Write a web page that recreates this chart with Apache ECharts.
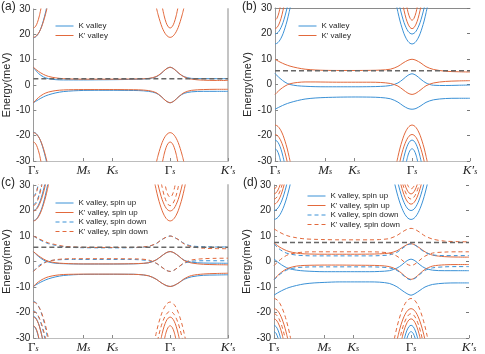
<!DOCTYPE html>
<html>
<head>
<meta charset="utf-8">
<script src="https://cdn.jsdelivr.net/npm/echarts@6/dist/echarts.min.js"></script>
<style>
  html, body { margin: 0; padding: 0; background: #fff; }
  #chart { width: 485px; height: 354px; }
</style>
</head>
<body>
<div id="chart"></div>
<script>
// path length along Gs - Ms - Ks - Gs - K's (|GM| = 1)
const L = 3.887;
const GAMMA = 2.732;
const TICK_POS = [0, 1, 1.577, 2.732, 3.887];
const TICK_LABELS = ['{g|Γ}{s|s}', '{m|M}{s|s}', '{m|K}{s|s}', '{g|Γ}{s|s}', '{m|K′}{s|s}'];

// k points for the low energy bands
const X = [0, 0.1, 0.2, 0.3, 0.45, 0.6, 0.8, 1.0, 1.3, 1.6, 1.9, 2.1,
           2.3, 2.45, 2.55, 2.65, 2.732, 2.81, 2.91, 3.01, 3.16, 3.4, 3.65, 3.887];
// k offsets from Gamma for the high energy bands
const DX = [0, 0.04, 0.08, 0.12, 0.16, 0.2, 0.24, 0.28, 0.32, 0.36];

// Fermi level (grey dashed) per panel
const EF = [2.5, 5.4, 5.6, 7.5];

// (a)
const A_K_UP  = [7.0, 4.6, 3.2, 2.5, 2.1, 2.0, 2.0, 2.0, 2.05, 2.1, 2.2, 2.3, 2.5, 3.2, 4.5, 6.3, 7.0, 6.3, 4.5, 3.3, 2.6, 2.5, 2.5, 2.5];
const A_KP_UP = [7.0, 5.4, 4.2, 3.4, 2.8, 2.5, 2.35, 2.3, 2.3, 2.3, 2.35, 2.4, 2.6, 3.3, 4.6, 6.3, 7.0, 6.3, 4.6, 3.2, 2.3, 1.9, 1.8, 1.8];
const A_K_LO  = [-7.0, -5.8, -4.7, -3.9, -3.1, -2.6, -2.3, -2.15, -2.1, -2.1, -2.15, -2.2, -2.5, -3.2, -4.5, -6.3, -7.0, -6.3, -4.5, -3.3, -2.7, -2.5, -2.5, -2.5];
const A_KP_LO = [-7.0, -5.0, -3.6, -2.8, -2.2, -1.95, -1.85, -1.8, -1.8, -1.8, -1.85, -1.9, -2.2, -3.0, -4.5, -6.3, -7.0, -6.3, -4.5, -3.0, -2.1, -1.8, -1.7, -1.7];

// (b)
const B_K_UP  = [4.3, 2.4, 0.9, 0.0, -0.5, -0.7, -0.85, -0.9, -0.9, -0.9, -0.85, -0.75, -0.4, 0.6, 2.0, 3.6, 4.2, 3.6, 2.0, 0.6, -0.3, -0.4, -0.3, -0.2];
const B_KP_UP = [9.9, 8.8, 7.9, 7.2, 6.5, 6.0, 5.7, 5.55, 5.5, 5.5, 5.55, 5.65, 6.0, 7.1, 8.4, 9.5, 9.9, 9.5, 8.4, 7.0, 5.9, 5.2, 5.0, 4.9];
const B_KP_LO = [-3.9, -2.0, -0.6, 0.3, 0.8, 1.0, 1.0, 0.95, 0.9, 0.9, 0.9, 0.8, 0.4, -0.6, -2.0, -3.4, -3.9, -3.4, -2.0, -0.5, 0.6, 1.2, 1.4, 1.5];
const B_K_LO  = [-9.7, -8.7, -7.8, -7.1, -6.3, -5.7, -5.3, -5.1, -4.95, -4.9, -4.95, -5.1, -5.6, -6.9, -8.3, -9.4, -9.7, -9.4, -8.3, -7.0, -6.0, -5.5, -5.4, -5.4];

// (c)
const C_K_UP   = [3.9, 2.0, 0.6, -0.2, -0.7, -0.85, -0.95, -1.0, -1.0, -1.0, -0.95, -0.85, -0.5, 0.6, 2.0, 3.4, 3.9, 3.4, 2.0, 0.5, -0.3, -0.6, -0.65, -0.7];
const C_KP_UP  = [3.9, 2.3, 1.0, 0.1, -0.5, -0.75, -0.9, -0.95, -0.95, -0.95, -0.9, -0.8, -0.5, 0.6, 2.0, 3.4, 3.9, 3.4, 2.0, 0.4, -0.6, -1.1, -1.25, -1.3];
const C_K_LO   = [-9.8, -8.6, -7.6, -6.8, -6.0, -5.5, -5.2, -5.05, -5.0, -5.0, -5.0, -5.1, -5.6, -6.9, -8.3, -9.4, -9.8, -9.4, -8.3, -7.0, -6.0, -5.4, -5.3, -5.2];
const C_KP_LO  = [-9.8, -8.0, -6.8, -6.0, -5.4, -5.1, -5.0, -4.95, -4.95, -4.95, -5.0, -5.1, -5.6, -6.9, -8.3, -9.4, -9.8, -9.4, -8.3, -6.8, -5.5, -4.9, -4.7, -4.6];
const C_KD_UP  = [10.0, 8.8, 7.8, 7.0, 6.3, 5.8, 5.5, 5.4, 5.35, 5.35, 5.4, 5.5, 5.9, 7.0, 8.4, 9.5, 10.0, 9.5, 8.4, 7.1, 6.1, 5.8, 5.7, 5.7];
const C_KPD_UP = [10.0, 9.0, 8.1, 7.3, 6.6, 6.0, 5.7, 5.55, 5.5, 5.5, 5.5, 5.6, 6.0, 7.0, 8.4, 9.5, 10.0, 9.5, 8.4, 6.9, 5.8, 5.2, 5.05, 5.0];
const C_KD_LO  = [-3.9, -1.8, -0.5, 0.2, 0.6, 0.75, 0.8, 0.8, 0.8, 0.8, 0.8, 0.7, 0.3, -0.7, -2.0, -3.4, -3.9, -3.4, -2.0, -0.7, 0.1, 0.3, 0.3, 0.3];
const C_KPD_LO = [-3.9, -2.2, -0.8, 0.1, 0.7, 1.0, 1.1, 1.1, 1.1, 1.1, 1.05, 1.0, 0.6, -0.6, -2.0, -3.4, -3.9, -3.4, -2.0, -0.5, 0.6, 1.1, 1.25, 1.3];

// (d)
const D_K_UP   = [1.0, -0.6, -1.9, -2.8, -3.4, -3.7, -3.9, -4.0, -4.0, -4.0, -4.0, -3.9, -3.6, -2.6, -1.3, 0.3, 0.9, 0.3, -1.3, -2.6, -3.4, -3.6, -3.6, -3.6];
const D_K_LO   = [-13.2, -12.0, -11.0, -10.2, -9.4, -8.8, -8.4, -8.2, -8.0, -8.0, -8.0, -8.1, -8.6, -9.9, -11.3, -12.6, -13.2, -12.6, -11.3, -10.0, -9.0, -8.5, -8.4, -8.4];
const D_KP_UP  = [7.3, 5.8, 4.7, 3.9, 3.3, 3.0, 2.9, 2.85, 2.85, 2.85, 2.9, 3.0, 3.3, 4.2, 5.4, 6.6, 7.0, 6.5, 5.2, 3.8, 2.5, 1.9, 1.75, 1.7];
const D_KP_LO  = [-7.0, -5.0, -3.5, -2.5, -1.8, -1.55, -1.45, -1.4, -1.4, -1.45, -1.5, -1.6, -2.0, -3.2, -4.7, -6.4, -7.0, -6.4, -4.7, -3.1, -1.8, -1.3, -1.2, -1.2];
const D_KD_UP  = [6.9, 5.0, 3.7, 3.0, 2.5, 2.3, 2.2, 2.2, 2.2, 2.2, 2.2, 2.3, 2.6, 3.6, 5.0, 6.4, 6.9, 6.4, 5.0, 3.6, 2.6, 2.3, 2.3, 2.3];
const D_KD_LO  = [-7.2, -5.3, -3.9, -3.0, -2.4, -2.2, -2.1, -2.1, -2.1, -2.1, -2.1, -2.2, -2.5, -3.5, -5.0, -6.6, -7.2, -6.6, -5.0, -3.5, -2.5, -2.1, -2.0, -2.0];
const D_KPD_UP = [12.8, 11.6, 10.6, 9.9, 9.3, 8.9, 8.7, 8.6, 8.5, 8.5, 8.5, 8.6, 9.0, 10.2, 11.5, 12.6, 13.0, 12.6, 11.4, 10.0, 8.8, 8.0, 7.8, 7.7];
const D_KPD_LO = [-1.6, 0.3, 1.8, 2.8, 3.4, 3.7, 3.8, 3.8, 3.8, 3.8, 3.8, 3.7, 3.3, 2.1, 0.6, -1.0, -1.6, -1.0, 0.6, 2.1, 3.3, 3.7, 3.8, 3.8];

// high energy bands, energy at DX offsets from Gamma
const H188  = [18.8, 19.05, 19.8, 21.0, 22.7, 25.0, 27.7, 30.9];
const H225  = [22.5, 23.0, 24.6, 27.3, 31.0];
const HM188 = [-18.8, -19.05, -19.8, -21.0, -22.7, -25.0, -27.7, -30.9];
const HM225 = [-22.5, -23.0, -24.6, -27.3, -31.0];
const H188B  = [18.6, 18.9, 19.7, 21.0, 22.9, 25.4, 28.4, 31.9];
const HM188B = [-18.6, -18.9, -19.7, -21.0, -22.9, -25.4, -28.4, -31.9];

const H159  = [15.9, 16.15, 16.9, 18.15, 19.9, 22.2, 24.9, 28.2, 31.9];
const H198  = [19.8, 20.1, 20.9, 22.35, 24.3, 26.9, 30.0, 33.7];
const H219  = [21.9, 22.35, 23.7, 25.9, 29.1, 33.1];
const H252  = [25.2, 26.0, 28.3, 32.1];
const HM159 = [-15.9, -16.15, -16.9, -18.15, -19.9, -22.2, -24.9, -28.2, -31.9];
const HM196 = [-19.6, -19.9, -20.75, -22.2, -24.2, -26.8, -30.0, -33.8];
const HM218 = [-21.8, -22.2, -23.4, -25.4, -28.3, -31.9];
const HM252 = [-25.2, -25.8, -27.7, -30.9];

// (c) blue bands near the left Gamma, slightly apart from the orange ones
const C_H159B  = [16.0, 16.3, 17.1, 18.5, 20.4, 22.9, 26.0, 29.6, 33.5];
const C_H198B  = [20.0, 20.35, 21.3, 22.9, 25.1, 28.0, 31.5];
const C_HM218B = [-21.5, -21.9, -23.2, -25.3, -28.3, -32.0];
const C_HM252B = [-25.4, -26.0, -28.0, -31.3];
const C_H219B  = [22.3, 22.8, 24.2, 26.6, 30.0, 34.0];
const C_H252B  = [25.6, 26.4, 28.8, 32.6];
const C_HM159B = [-15.6, -15.9, -16.8, -18.2, -20.2, -22.8, -25.9, -29.6, -33.8];
const C_HM196B = [-19.3, -19.7, -20.7, -22.4, -24.7, -27.6, -31.2];

const H165  = [16.5, 16.7, 17.35, 18.4, 19.9, 21.8, 24.1, 26.85, 30.0, 33.6];
const H200  = [20.0, 20.25, 21.0, 22.3, 24.1, 26.4, 29.2, 32.5];
const H225d = [22.5, 22.8, 23.7, 25.2, 27.3, 30.0, 33.3];
const H245  = [24.5, 24.85, 25.9, 27.6, 30.0, 33.1];
const H265  = [26.5, 26.9, 28.05, 30.0, 32.7];
const H285  = [28.5, 29.0, 30.5];
const HM145 = [-14.5, -14.75, -15.4, -16.55, -18.15, -20.2, -22.7, -25.65, -29.1, -33.0];
const HM185 = [-18.5, -18.75, -19.5, -20.75, -22.55, -24.8, -27.6, -30.9];
const HM205 = [-20.5, -20.8, -21.75, -23.35, -25.5, -28.35, -31.8];
const HM225d = [-22.5, -22.85, -24.0, -25.85, -28.4, -31.8];
const HM250 = [-25.0, -25.5, -26.9, -29.25, -32.6];
const HM275 = [-27.5, -28.1, -30.0, -33.1];

const BLUE = '#3b91d6';
const ORANGE = '#e2693c';
const TXT = '#262626';
const DASH = [4, 3];

const K = 'K valley', KP = "K' valley";
const KU = 'K valley, spin up', KPU = "K' valley, spin up";
const KD = 'K valley, spin down', KPD = "K' valley, spin down";

function lowBand(vals) { return vals.map((v, i) => [X[i], v]); }
function leftBand(vals) { return vals.map((v, i) => [DX[i], v]); }
function midBand(vals) {
    const out = [];
    for (let i = vals.length - 1; i > 0; i--) out.push([GAMMA - DX[i], vals[i]]);
    for (let i = 0; i < vals.length; i++) out.push([GAMMA + DX[i], vals[i]]);
    return out;
}

const series = [];
function add(g, name, color, dashed, data) {
    series.push({
        type: 'line', name, xAxisIndex: g, yAxisIndex: g, data,
        symbol: 'none', smooth: 0.3, clip: true, silent: true,
        lineStyle: { color, width: 1, type: dashed ? DASH : 'solid' },
        itemStyle: { color },
        emphasis: { disabled: true }
    });
}
function addLow(g, name, color, dashed, list) {
    list.forEach(v => add(g, name, color, dashed, lowBand(v)));
}
function addLeft(g, name, color, dashed, list) {
    list.forEach(v => add(g, name, color, dashed, leftBand(v)));
}
function addMid(g, name, color, dashed, list) {
    list.forEach(v => add(g, name, color, dashed, midBand(v)));
}
function addHigh(g, name, color, dashed, list) {
    addLeft(g, name, color, dashed, list);
    addMid(g, name, color, dashed, list);
}
function addEF(g) {
    series.push({
        type: 'line', xAxisIndex: g, yAxisIndex: g, symbol: 'none', silent: true,
        data: [[0, EF[g]], [L, EF[g]]],
        lineStyle: { color: '#666666', width: 1.5, type: [5, 3] }
    });
}

// (a)
addLow(0, K, BLUE, false, [A_K_UP, A_K_LO]);
addLeft(0, K, BLUE, false, [H188B, HM188B]);
addLow(0, KP, ORANGE, false, [A_KP_UP, A_KP_LO]);
addHigh(0, KP, ORANGE, false, [H188, H225, HM188, HM225]);
addEF(0);

// (b)
addLow(1, K, BLUE, false, [B_K_UP, B_K_LO]);
addHigh(1, K, BLUE, false, [H198, H159, HM218, HM252]);
addLow(1, KP, ORANGE, false, [B_KP_UP, B_KP_LO]);
addHigh(1, KP, ORANGE, false, [H252, H219, HM159, HM196]);
addEF(1);

// (c)
addLow(2, KU, BLUE, false, [C_K_UP, C_K_LO]);
addLeft(2, KU, BLUE, false, [C_H159B, C_H198B, C_HM218B, C_HM252B]);
addLow(2, KPU, ORANGE, false, [C_KP_UP, C_KP_LO]);
addHigh(2, KPU, ORANGE, false, [H159, H198, HM218, HM252]);
addLow(2, KD, BLUE, true, [C_KD_UP, C_KD_LO]);
addLeft(2, KD, BLUE, true, [C_H219B, C_H252B, C_HM159B, C_HM196B]);
addLow(2, KPD, ORANGE, true, [C_KPD_UP, C_KPD_LO]);
addHigh(2, KPD, ORANGE, true, [H219, H252, HM159, HM196]);
addEF(2);

// (d)
addLow(3, KU, BLUE, false, [D_K_UP, D_K_LO]);
addHigh(3, KU, BLUE, false, [H165, H200, HM250, HM275]);
addLow(3, KPU, ORANGE, false, [D_KP_UP, D_KP_LO]);
addHigh(3, KPU, ORANGE, false, [H225d, H265, HM185, HM225d]);
addLow(3, KD, BLUE, true, [D_KD_UP, D_KD_LO]);
addLow(3, KPD, ORANGE, true, [D_KPD_UP, D_KPD_LO]);
addHigh(3, KPD, ORANGE, true, [H245, H285, HM145, HM205]);
addEF(3);

const grids = [
    { left: 33, top: 9, width: 195, height: 152 },
    { left: 275, top: 8, width: 195, height: 153 },
    { left: 33, top: 185, width: 195, height: 153 },
    { left: 274, top: 185, width: 195, height: 153 }
];

const RICH = {
    g: { fontFamily: 'Liberation Serif', fontSize: 13, color: TXT, padding: [0, 0, 3, 0] },
    m: { fontFamily: 'Liberation Serif', fontStyle: 'italic', fontSize: 13, color: TXT, padding: [0, 0, 3, 0] },
    s: { fontFamily: 'Liberation Serif', fontStyle: 'italic', fontSize: 8, color: TXT }
};

const xAxes = grids.map((g, i) => ({
    type: 'value', gridIndex: i, min: 0, max: L,
    axisLine: { show: true, onZero: false, lineStyle: { color: '#bdbdbd', width: 1 } },
    axisTick: { show: true, inside: true, length: 3, customValues: TICK_POS, lineStyle: { color: '#888' } },
    axisLabel: {
        customValues: TICK_POS, margin: 3, rich: RICH,
        formatter: v => TICK_LABELS[TICK_POS.indexOf(v)]
    },
    splitLine: { show: false }
}));
// top box line for (b)
xAxes.push({
    type: 'value', gridIndex: 1, min: 0, max: L, position: 'top',
    axisLine: { show: true, onZero: false, lineStyle: { color: '#8a8a8a' } },
    axisTick: { show: false }, axisLabel: { show: false }, splitLine: { show: false }
});

const yAxes = grids.map((g, i) => ({
    type: 'value', gridIndex: i, min: -30, max: 30, interval: 10,
    name: 'Energy(meV)', nameLocation: 'middle', nameGap: 20,
    nameTextStyle: { fontFamily: 'Liberation Sans', fontSize: 11, color: TXT },
    axisLine: { show: true, onZero: false, lineStyle: { color: '#9a9a9a', width: 1 } },
    axisTick: { show: true, inside: true, length: 3, lineStyle: { color: '#888' } },
    axisLabel: { fontFamily: 'Liberation Sans', fontSize: 10, color: TXT, margin: 3 },
    splitLine: { show: false }
}));
// right side: box line for (a),(c), tick marks only for (b),(d)
[0, 2].forEach(i => yAxes.push({
    type: 'value', gridIndex: i, min: -30, max: 30, interval: 10, position: 'right',
    axisLine: { show: true, onZero: false, lineStyle: { color: '#c4c4c4', width: 2 } },
    axisTick: { show: false }, axisLabel: { show: false }, splitLine: { show: false }
}));
[1, 3].forEach(i => yAxes.push({
    type: 'value', gridIndex: i, min: -30, max: 30, interval: 10, position: 'right',
    axisLine: { show: false, onZero: false },
    axisTick: { show: true, inside: true, length: 3, lineStyle: { color: '#777' } },
    axisLabel: { show: false }, splitLine: { show: false }
}));

function legendItem(name, color, dashed) {
    return { name, itemStyle: { opacity: 0 }, lineStyle: { color, width: 1, type: dashed ? DASH : 'solid', opacity: 1 } };
}
const LEG2 = [legendItem(K, BLUE, false), legendItem(KP, ORANGE, false)];
const LEG4 = [legendItem(KU, BLUE, false), legendItem(KPU, ORANGE, false),
              legendItem(KD, BLUE, true), legendItem(KPD, ORANGE, true)];

const legendBase = {
    orient: 'vertical', itemWidth: 18, itemHeight: 10, itemGap: 1.5,
    textStyle: { fontFamily: 'Liberation Sans', fontSize: 8, color: TXT },
    selectedMode: false
};

const option = {
    animation: false,
    backgroundColor: '#fff',
    grid: grids,
    xAxis: xAxes,
    yAxis: yAxes,
    legend: [
        Object.assign({ left: 50, top: 17, data: LEG2 }, legendBase),
        Object.assign({ left: 293, top: 17, data: LEG2 }, legendBase),
        Object.assign({ left: 50, top: 194, data: LEG4 }, legendBase),
        Object.assign({ left: 302, top: 187, data: LEG4 }, legendBase)
    ],
    graphic: [
        { type: 'text', left: 1, top: 1, style: { text: '(a)', fontSize: 12, fontFamily: 'Liberation Sans', fill: TXT } },
        { type: 'text', left: 242, top: 1, style: { text: '(b)', fontSize: 12, fontFamily: 'Liberation Sans', fill: TXT } },
        { type: 'text', left: 1, top: 177, style: { text: '(c)', fontSize: 12, fontFamily: 'Liberation Sans', fill: TXT } },
        { type: 'text', left: 243, top: 177, style: { text: '(d)', fontSize: 12, fontFamily: 'Liberation Sans', fill: TXT } }
    ],
    series: series
};

const chart = echarts.init(document.getElementById('chart'));
chart.setOption(option);
</script>
</body>
</html>
